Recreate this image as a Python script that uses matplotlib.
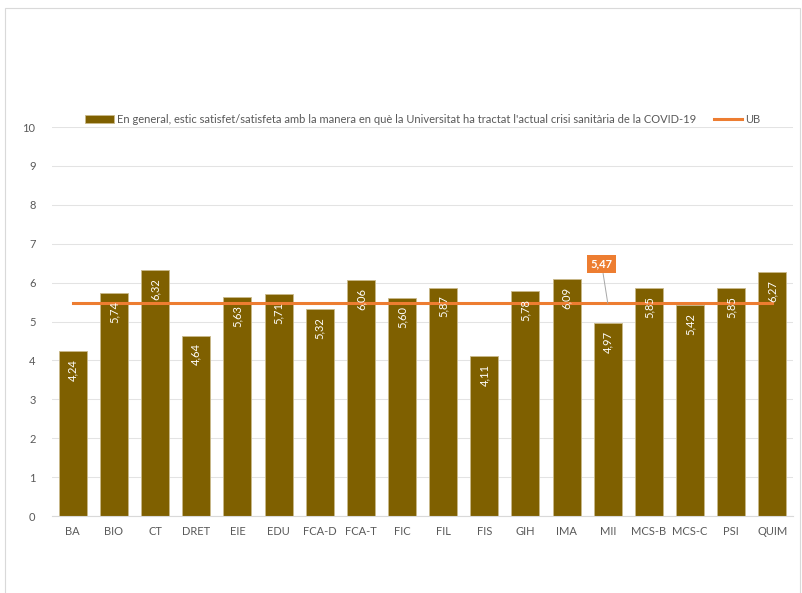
import numpy as np
import matplotlib.pyplot as plt
from matplotlib.patches import Rectangle

plt.rcParams['font.family'] = ['Lato', 'DejaVu Sans']

categories = ['BA', 'BIO', 'CT', 'DRET', 'EIE', 'EDU', 'FCA-D', 'FCA-T', 'FIC',
              'FIL', 'FIS', 'GIH', 'IMA', 'MII', 'MCS-B', 'MCS-C', 'PSI', 'QUIM']
values = [4.24, 5.74, 6.32, 4.64, 5.63, 5.71, 5.32, 6.06, 5.60,
          5.87, 4.11, 5.78, 6.09, 4.97, 5.85, 5.42, 5.85, 6.27]
ub_value = 5.47
bar_label = "En general, estic satisfet/satisfeta amb la manera en què la Universitat ha tractat l'actual crisi sanitària de la COVID-19"
line_label = 'UB'

bar_color = '#7F6000'
line_color = '#ED7D31'
text_gray = '#595959'

fig = plt.figure(figsize=(8.03, 5.93), dpi=100)
ax = fig.add_axes([0.065, 0.1298, 0.9225, 0.656])

x = np.arange(len(categories))
bars = ax.bar(x, values, width=0.68, color=bar_color, edgecolor='#C9B98A',
              linewidth=0.6, label=bar_label, zorder=2)
line, = ax.plot(x, [ub_value] * len(x), color=line_color, lw=2.2, label=line_label, zorder=3)

# value labels inside the bars
for xi, v in zip(x, values):
    ax.text(xi, v - 0.2, f'{v:.2f}'.replace('.', ','), rotation=90,
            ha='center', va='top', color='white', fontsize=8, zorder=4)

# UB data label
ax.annotate(f'{ub_value:.2f}'.replace('.', ','), xy=(13, ub_value), xytext=(12.85, 6.48),
            ha='center', va='center', color='white', fontsize=8, fontweight='bold',
            bbox=dict(boxstyle='square,pad=0.35', fc=line_color, ec='none'),
            arrowprops=dict(arrowstyle='-', color='#A6A6A6', lw=0.7,
                            shrinkA=0, shrinkB=0), zorder=5)

ax.set_xlim(-0.5, len(categories) - 0.5)
ax.set_ylim(0, 10)
ax.set_yticks(range(0, 11))
ax.set_xticks(x)
ax.set_xticklabels(categories)
ax.tick_params(length=0, colors=text_gray, labelsize=8)
ax.tick_params(axis='y', pad=12)
ax.tick_params(axis='x', pad=7)
ax.grid(axis='y', color='#E3E3E3', lw=0.75, zorder=0)
ax.set_axisbelow(True)
for side in ['top', 'right', 'left']:
    ax.spines[side].set_visible(False)
ax.spines['bottom'].set_color('#D9D9D9')

leg = ax.legend([bars, line], [bar_label, line_label],
                loc='lower center', bbox_to_anchor=(0.5, 0.995), ncol=2, frameon=False,
                fontsize=8, handlelength=2.6, handleheight=0.7, columnspacing=1.6,
                handletextpad=0.2, borderaxespad=0)
for t in leg.get_texts():
    t.set_color(text_gray)

# chart border
fig.add_artist(Rectangle((5 / 803, -0.05), 795 / 803, 1.05 - 8 / 593,
                         transform=fig.transFigure, fill=False,
                         ec='#D9D9D9', lw=0.8))

fig.savefig('out.png', dpi=100)
